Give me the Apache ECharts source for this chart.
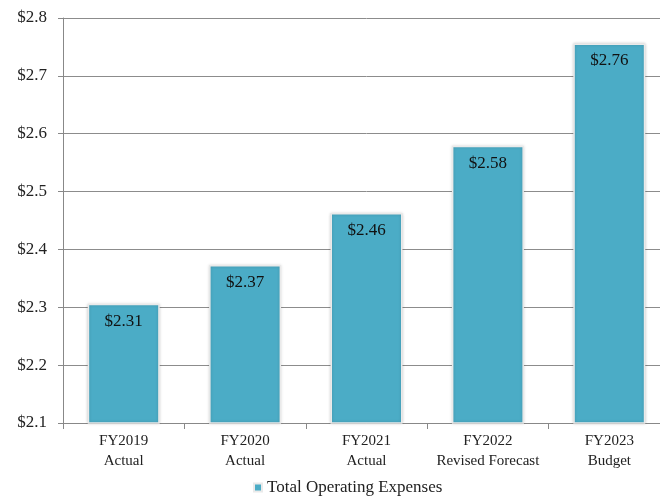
<!DOCTYPE html>
<html>
<head>
<meta charset="utf-8">
<script src="https://cdn.jsdelivr.net/npm/echarts@6/dist/echarts.min.js"></script>
<style>
  html, body { margin: 0; padding: 0; background: #fff; overflow: hidden; }
  #chart { width: 670px; height: 502px; }
</style>
</head>
<body>
<div id="chart"></div>
<script>
// data
const categories = ['FY2019\nActual', 'FY2020\nActual', 'FY2021\nActual', 'FY2022\nRevised Forecast', 'FY2023\nBudget'];
const expenses = [2.306, 2.373, 2.463, 2.579, 2.756];
const seriesName = 'Total Operating Expenses';

const font = '"Liberation Serif", "DejaVu Serif", serif';
// the plot runs a little past the right edge of the picture, so the canvas is wider than the window
const chart = echarts.init(document.getElementById('chart'));

chart.setOption({
    animation: false,
    textStyle: { fontFamily: font },
    grid: { left: 63, top: 18, right: 0, bottom: 79, containLabel: false },
    legend: {
        bottom: 1,
        left: 248,
        icon: 'rect',
        itemWidth: 8,
        itemHeight: 8,
        itemGap: 5,
        textStyle: { fontFamily: font, fontSize: 17, color: '#222' },
        data: [seriesName]
    },
    xAxis: {
        type: 'category',
        data: categories,
        axisLine: { lineStyle: { color: '#888', width: 1 } },
        axisTick: { show: true, length: 6, lineStyle: { color: '#888' } },
        axisLabel: { interval: 0, fontFamily: font, fontSize: 15, color: '#222', lineHeight: 20, margin: 8 }
    },
    yAxis: {
        type: 'value',
        min: 2.1,
        max: 2.8,
        interval: 0.1,
        axisLine: { show: true, lineStyle: { color: '#888', width: 1 } },
        axisTick: { show: true, length: 5, lineStyle: { color: '#888' } },
        splitLine: { lineStyle: { color: '#8c8c8c', width: 1 } },
        axisLabel: {
            fontFamily: font, fontSize: 17, color: '#222', margin: 16,
            formatter: v => '$' + (Math.round(v * 10) / 10).toFixed(1)
        }
    },
    series: [{
        name: seriesName,
        type: 'bar',
        data: expenses,
        barWidth: 72,
        itemStyle: {
            color: '#4BACC6',
            borderColor: '#eaeaea',
            borderWidth: 1.5,
            shadowBlur: 3,
            shadowColor: 'rgba(0,0,0,0.18)'
        },
        label: {
            show: true,
            position: 'insideTop',
            distance: 9,
            fontFamily: font,
            fontSize: 17,
            color: '#111',
            formatter: p => '$' + p.value.toFixed(2)
        }
    }]
});
</script>
</body>
</html>
